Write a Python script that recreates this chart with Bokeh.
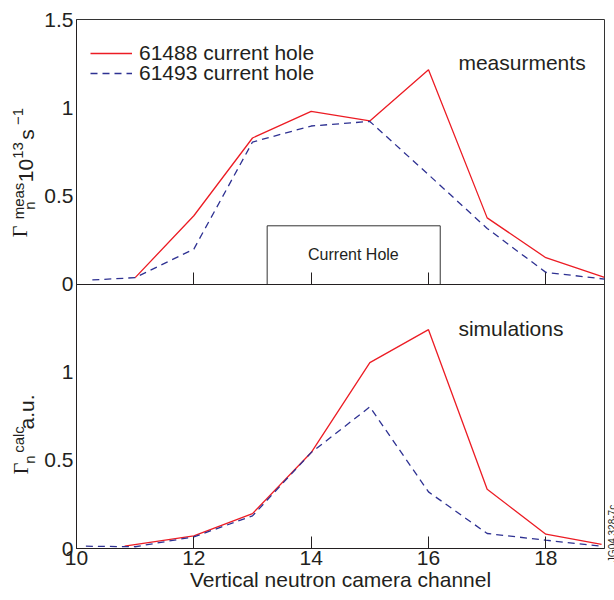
from bokeh.plotting import figure
from bokeh.models import (Label, Legend, LegendItem, FixedTicker, CustomJSTickFormatter,
                          LinearAxis, ColumnDataSource, Range1d)
from bokeh.layouts import row
from bokeh.transform import dodge
from bokeh.embed import file_html
from bokeh.resources import INLINE

# ---- data ----
meas_61488_x = [11, 12, 13, 14, 15, 16, 17, 18, 19]
meas_61488_y = [0.036, 0.387, 0.828, 0.979, 0.925, 1.215, 0.375, 0.149, 0.038]
meas_61493_x = [10.27, 11, 12, 13, 14, 15, 16, 17, 18, 19]
meas_61493_y = [0.023, 0.036, 0.198, 0.805, 0.896, 0.922, 0.62, 0.315, 0.066, 0.028]

calc_61488_x = [10.82, 12, 13, 14, 15, 16, 17, 18, 18.95]
calc_61488_y = [0.013, 0.071, 0.198, 0.544, 1.054, 1.241, 0.336, 0.081, 0.023]
calc_61493_x = [10.16, 11, 12, 13, 14, 15, 16, 17, 18, 18.95]
calc_61493_y = [0.013, 0.01, 0.066, 0.185, 0.544, 0.803, 0.321, 0.085, 0.047, 0.013]

hole_x = [13.25, 13.25, 16.2, 16.2]
hole_y = [0.0, 0.33, 0.33, 0.0]

x_ticks = [10, 12, 14, 16, 18]
y_ticks_top = [0, 0.5, 1, 1.5]
y_ticks_bottom = [0, 0.5, 1]
panel_height = 1.5          # each panel spans 0 .. 1.5

series_labels = ["61488 current hole", "61493 current hole"]

RED = "#ec1c24"
BLUE = "#2e3192"
TXT = "#231f20"
FONT = "Liberation Sans"
SERIF = "Liberation Serif"

STRIP = 41                  # width of the strip holding the y titles

# ---- main figure: both panels in one frame, top panel dodged up by 1.5 ----
p = figure(width=75 - STRIP + 528 + 2, height=600, frame_width=528, frame_height=529,
           x_range=(10, 19), y_range=(0, 2 * panel_height),
           output_backend="svg", toolbar_location=None,
           min_border_left=75 - STRIP, min_border_right=2, min_border_top=19, min_border_bottom=0)
p.grid.visible = False
p.outline_line_color = "#333333"
p.outline_line_width = 1

src_m1 = ColumnDataSource(dict(x=meas_61488_x, y=meas_61488_y))
src_m2 = ColumnDataSource(dict(x=meas_61493_x, y=meas_61493_y))
src_c1 = ColumnDataSource(dict(x=calc_61488_x, y=calc_61488_y))
src_c2 = ColumnDataSource(dict(x=calc_61493_x, y=calc_61493_y))
src_h = ColumnDataSource(dict(x=hole_x, y=hole_y))

up = dodge("y", panel_height, range=p.y_range)
r1 = p.line("x", up, source=src_m1, line_color=RED, line_width=1.3)
r2 = p.line("x", up, source=src_m2, line_color=BLUE, line_width=1.3, line_dash="7 5")
p.line("x", up, source=src_h, line_color="#333333", line_width=1)
p.line("x", "y", source=src_c1, line_color=RED, line_width=1.3)
p.line("x", "y", source=src_c2, line_color=BLUE, line_width=1.3, line_dash="7 5")

# bottom x axis
ax = p.xaxis[0]
ax.ticker = FixedTicker(ticks=x_ticks)
ax.major_tick_in = 12
ax.major_tick_out = 0
ax.minor_tick_in = 0
ax.minor_tick_out = 0
ax.axis_line_color = TXT
ax.major_tick_line_color = TXT
ax.major_label_text_font = FONT
ax.major_label_text_font_size = "21px"
ax.major_label_text_color = TXT
ax.major_label_standoff = 2
ax.axis_label = "Vertical neutron camera channel"
ax.axis_label_text_font = FONT
ax.axis_label_text_font_size = "21px"
ax.axis_label_text_font_style = "normal"
ax.axis_label_text_color = TXT
ax.axis_label_standoff = 0

# divider axis between panels (ticks point up into the top panel)
mid = LinearAxis(fixed_location=panel_height, ticker=FixedTicker(ticks=x_ticks),
                 formatter=CustomJSTickFormatter(code="return '';"),
                 major_tick_in=0, major_tick_out=12, minor_tick_in=0, minor_tick_out=0,
                 major_label_standoff=0, axis_line_color=TXT, major_tick_line_color=TXT)
p.add_layout(mid, "above")

# y axis: bottom panel ticks, then top panel ticks shifted by the panel height
ay = p.yaxis[0]
ay.ticker = FixedTicker(ticks=y_ticks_bottom + [t + panel_height for t in y_ticks_top])
ay.formatter = CustomJSTickFormatter(args=dict(h=panel_height), code="""
    const v = tick >= h ? tick - h : tick;
    return String(Math.round(v * 100) / 100);
""")
ay.major_tick_in = 0
ay.major_tick_out = 0
ay.minor_tick_in = 0
ay.minor_tick_out = 0
ay.axis_line_color = TXT
ay.major_label_text_font = FONT
ay.major_label_text_font_size = "21px"
ay.major_label_text_color = TXT
ay.major_label_standoff = 3


def lab(fig, text, x, y, size, font=FONT, angle=0.0, align="left"):
    fig.add_layout(Label(x=x, y=y, text=text, text_font=font, text_font_size=size,
                         text_color=TXT, angle=angle, angle_units="deg",
                         text_align=align, text_baseline="alphabetic"))


lab(p, "Current Hole", 14.72, 0.17 + panel_height, "16px", align="center")
lab(p, "measurments", 16.51, 1.256 + panel_height, "21px")
lab(p, "simulations", 16.51, 1.249, "21px")


def legend_for(item, y):
    return Legend(items=[item], location=(14, y), orientation="vertical",
                  label_text_font=FONT, label_text_font_size="21px", label_text_color=TXT,
                  glyph_width=42, glyph_height=20, label_height=20, label_standoff=7,
                  spacing=0, padding=0, margin=0,
                  border_line_color=None, background_fill_alpha=0)


p.add_layout(legend_for(LegendItem(label=series_labels[0], renderers=[r1]), 483))
p.add_layout(legend_for(LegendItem(label=series_labels[1], renderers=[r2]), 463))

# ---- left strip holding the composed y-axis titles (pixel coordinates, y up) ----
H = 600
lf = figure(width=STRIP, height=H, frame_width=STRIP, frame_height=H,
            x_range=Range1d(0, STRIP), y_range=Range1d(0, H),
            x_axis_location=None, y_axis_location=None,
            output_backend="svg", toolbar_location=None, min_border=0)
lf.grid.visible = False
lf.outline_line_color = None


def vlab(fig, text, bx, cy, size_px, font=FONT):
    # rotated piece, centred on (baseline-corrected x, cy measured from the top)
    k = 0.3375 if font == SERIF else 0.3465
    lab(fig, text, bx - k * size_px, H - cy, f"{size_px}px", font=font, angle=90,
        align="center")


# (text, baseline x, centre y from top, size, font)
top_title = [("Γ", 26.5, 212, 20, SERIF), ("n", 34, 186, 15, FONT),
             ("meas", 23, 181.5, 15, FONT), ("10", 33, 151, 21, FONT),
             ("13", 23, 131, 15, FONT), ("s", 33, 115, 21, FONT),
             ("−1", 23, 97, 15, FONT)]
bottom_title = [("Γ", 27, 449, 20, SERIF), ("n", 34, 440, 15, FONT),
                ("calc", 23, 420, 15, FONT), ("a.u.", 33, 392.5, 21, FONT)]
for t, bx, cy, sz, fnt in top_title + bottom_title:
    vlab(lf, t, bx, cy, sz, fnt)

# ---- right strip holding the figure id ----
rf = figure(width=9, height=H, frame_width=9, frame_height=H,
            x_range=Range1d(0, 9), y_range=Range1d(0, H),
            x_axis_location=None, y_axis_location=None,
            output_backend="svg", toolbar_location=None, min_border=0)
rf.grid.visible = False
rf.outline_line_color = None
vlab(rf, "JG04.328-7c", 9.2, 514, 10)

layout = row(lf, p, rf, spacing=0)
open("out.html", "w").write(file_html(layout, INLINE))
